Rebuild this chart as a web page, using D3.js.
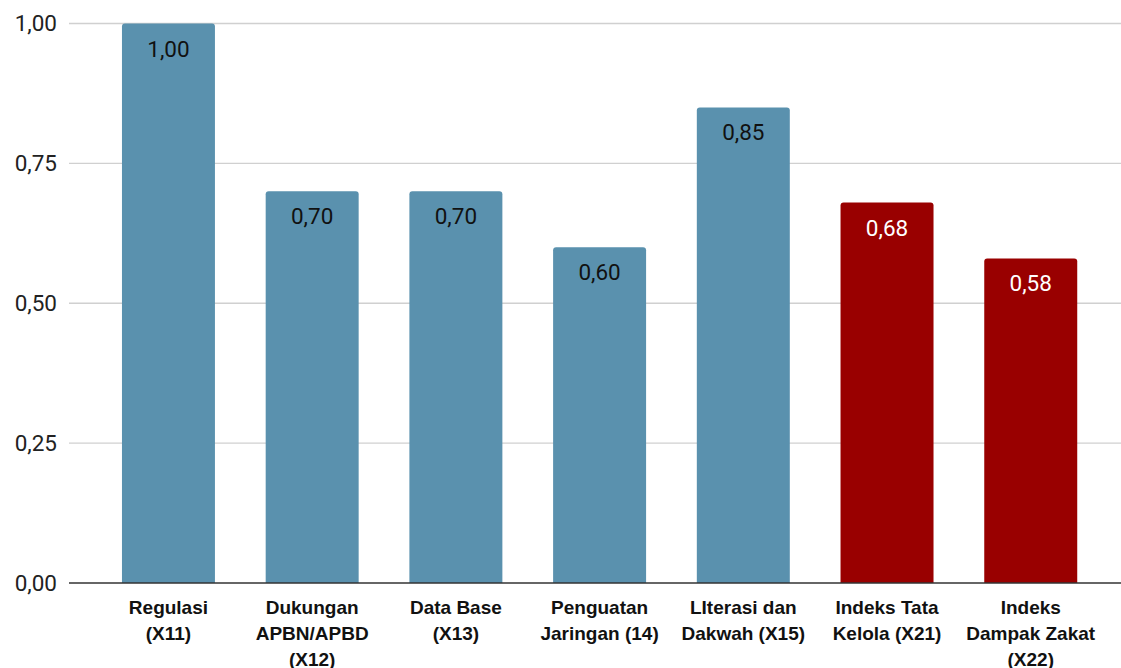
<!DOCTYPE html>
<html><head><meta charset="utf-8">
<script src="https://cdn.jsdelivr.net/npm/d3@7"></script>
<style>html,body{margin:0;padding:0;background:#fff;}</style>
</head><body>
<svg id="c" width="1121" height="668"></svg>
<script>
const categories = [
  ["Regulasi","(X11)"],
  ["Dukungan","APBN/APBD","(X12)"],
  ["Data Base","(X13)"],
  ["Penguatan","Jaringan (14)"],
  ["LIterasi dan","Dakwah (X15)"],
  ["Indeks Tata","Kelola (X21)"],
  ["Indeks","Dampak Zakat","(X22)"]
];
const values = [1.00, 0.70, 0.70, 0.60, 0.85, 0.68, 0.58];
const groups = ["a","a","a","a","a","b","b"];
const yTicks = [0, 0.25, 0.5, 0.75, 1.0];
const colors = {a:"#5a91ae", b:"#990000"};
const labelColors = {a:"#111111", b:"#ffffff"};

const svg = d3.select("#c");
const fmt = v => v.toFixed(2).replace(".", ",");
const x = d3.scaleBand().domain(d3.range(values.length)).range([96.6, 1102.6]).paddingInner(0.353).paddingOuter(0.1765);
const y = d3.scaleLinear().domain([0, 1]).range([583, 23.5]);

// gridlines
svg.append("g").selectAll("line").data(yTicks.filter(t=>t>0)).join("line")
  .attr("x1", 69).attr("x2", 1121).attr("y1", d=>y(d)).attr("y2", d=>y(d))
  .attr("stroke", "#d0d0d0").attr("stroke-width", 1.3);

// y tick labels
svg.append("g").selectAll("text").data(yTicks).join("text")
  .attr("x", 57).attr("y", d=>y(d)).attr("dy", "0.35em").attr("text-anchor","end")
  .attr("font-family","Roboto, sans-serif").attr("font-size", 22.5).attr("fill","#222")
  .text(fmt);

// bars with rounded top
const r = 3;
svg.append("g").selectAll("path").data(values).join("path")
  .attr("fill", (d,i)=>colors[groups[i]])
  .attr("d", (d,i)=>{
    const x0 = x(i), w = x.bandwidth(), y0 = y(d), y1 = y(0);
    return `M${x0},${y1}V${y0+r}Q${x0},${y0} ${x0+r},${y0}H${x0+w-r}Q${x0+w},${y0} ${x0+w},${y0+r}V${y1}Z`;
  });

// value labels
svg.append("g").selectAll("text").data(values).join("text")
  .attr("x", (d,i)=>x(i)+x.bandwidth()/2).attr("y", d=>y(d)+33)
  .attr("text-anchor","middle").attr("font-family","Roboto, sans-serif").attr("font-size", 22.5)
  .attr("fill", (d,i)=>labelColors[groups[i]]).text(fmt);

// baseline
svg.append("line").attr("x1", 69).attr("x2", 1121).attr("y1", y(0)).attr("y2", y(0))
  .attr("stroke", "#333").attr("stroke-width", 1.5);

// x labels
const xl = svg.append("g").selectAll("text").data(categories).join("text")
  .attr("x", (d,i)=>x(i)+x.bandwidth()/2).attr("y", 614)
  .attr("text-anchor","middle").attr("font-family","'Liberation Sans', Arial, sans-serif")
  .attr("font-weight","bold").attr("font-size", 19).attr("fill","#111");
xl.selectAll("tspan").data(d=>d).join("tspan")
  .attr("x", function(){ return this.parentNode.getAttribute("x"); })
  .attr("dy", (d,j)=> j===0 ? 0 : 26).text(d=>d);
</script>
</body></html>
